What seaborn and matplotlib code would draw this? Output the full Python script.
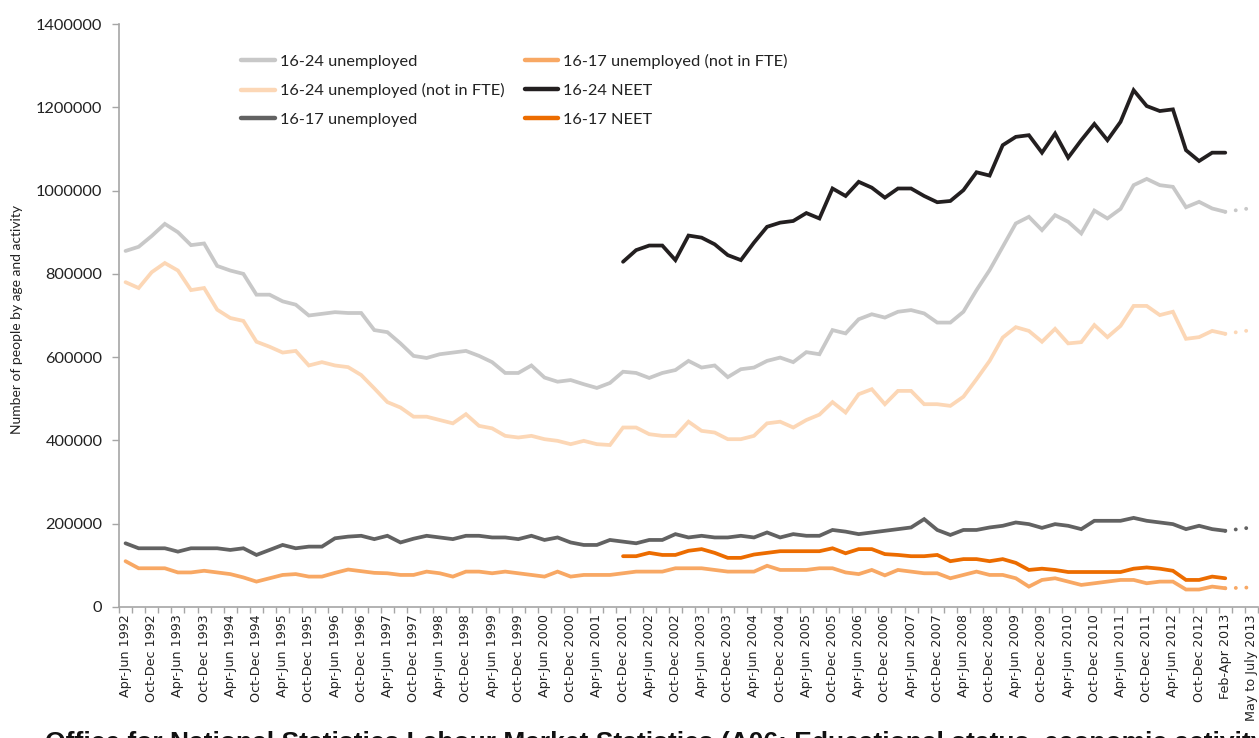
import numpy as np
import pandas as pd
import matplotlib
matplotlib.use("Agg")
import matplotlib.pyplot as plt
from matplotlib.lines import Line2D
import seaborn as sns

# Quarterly labels shown on the x axis (every second period)
tick_labels = [
    "Apr-Jun 1992", "Oct-Dec 1992", "Apr-Jun 1993", "Oct-Dec 1993", "Apr-Jun 1994",
    "Oct-Dec 1994", "Apr-Jun 1995", "Oct-Dec 1995", "Apr-Jun 1996", "Oct-Dec 1996",
    "Apr-Jun 1997", "Oct-Dec 1997", "Apr-Jun 1998", "Oct-Dec 1998", "Apr-Jun 1999",
    "Oct-Dec 1999", "Apr-Jun 2000", "Oct-Dec 2000", "Apr-Jun 2001", "Oct-Dec 2001",
    "Apr-Jun 2002", "Oct-Dec 2002", "Apr-Jun 2003", "Oct-Dec 2003", "Apr-Jun 2004",
    "Oct-Dec 2004", "Apr-Jun 2005", "Oct-Dec 2005", "Apr-Jun 2006", "Oct-Dec 2006",
    "Apr-Jun 2007", "Oct-Dec 2007", "Apr-Jun 2008", "Oct-Dec 2008", "Apr-Jun 2009",
    "Oct-Dec 2009", "Apr-Jun 2010", "Oct-Dec 2010", "Apr-Jun 2011", "Oct-Dec 2011",
    "Apr-Jun 2012", "Oct-Dec 2012", "Feb-Apr 2013", "May to July 2013",
]
n_periods = 2 * len(tick_labels) - 1      # one period per quarter, 87 in total
last_obs = 84                             # Feb-Apr 2013
neet_start = 38                           # Oct-Dec 2001

# Thousands of people, Apr-Jun 1992 .. Feb-Apr 2013
unemp_1624 = [855, 865, 891, 920, 900, 869, 873, 819, 808, 800,
              750, 750, 734, 726, 700, 704, 708, 706, 706, 665,
              660, 633, 603, 598, 607, 611, 615, 603, 588, 562,
              562, 580, 551, 541, 545, 535, 526, 538, 565, 562,
              550, 562, 569, 591, 575, 580, 552, 571, 575, 591,
              599, 588, 612, 607, 665, 657, 691, 703, 695, 709,
              713, 705, 683, 683, 709, 761, 809, 865, 921, 937,
              905, 941, 925, 897, 952, 933, 956, 1013, 1028, 1013,
              1009, 960, 973, 957, 949]
unemp_nfte_1624 = [780, 766, 804, 826, 808, 761, 766, 714, 694, 687,
                   637, 625, 611, 615, 580, 588, 580, 576, 557, 525,
                   492, 479, 457, 457, 449, 441, 463, 435, 429, 411,
                   407, 411, 403, 399, 391, 399, 391, 389, 431, 431,
                   415, 411, 411, 445, 423, 419, 403, 403, 411, 441,
                   445, 431, 449, 462, 492, 467, 511, 523, 487, 519,
                   519, 487, 487, 483, 505, 547, 591, 647, 672, 663,
                   637, 668, 633, 636, 677, 648, 675, 723, 723, 701,
                   709, 644, 648, 663, 656]
unemp_1617 = [153, 141, 141, 141, 133, 141, 141, 141, 137, 141,
              125, 137, 149, 141, 145, 145, 165, 169, 171, 163,
              171, 155, 164, 171, 167, 163, 171, 171, 167, 167,
              163, 171, 161, 167, 155, 149, 149, 161, 157, 153,
              161, 161, 175, 167, 171, 167, 167, 171, 167, 179,
              167, 175, 171, 171, 185, 181, 175, 179, 183, 187,
              191, 211, 185, 173, 185, 185, 191, 195, 203, 199,
              190, 199, 195, 187, 207, 207, 207, 214, 207, 203,
              199, 187, 195, 187, 183]
unemp_nfte_1617 = [110, 93, 93, 93, 83, 83, 87, 83, 79, 71,
                   61, 69, 77, 79, 73, 73, 82, 90, 86, 82,
                   81, 77, 77, 85, 81, 73, 85, 85, 81, 85,
                   81, 77, 73, 85, 73, 77, 77, 77, 81, 85,
                   85, 85, 93, 93, 93, 89, 85, 85, 85, 99,
                   89, 89, 89, 93, 93, 83, 79, 89, 76, 89,
                   85, 81, 81, 69, 77, 85, 77, 77, 69, 49,
                   65, 69, 61, 53, 57, 61, 65, 65, 57, 61,
                   61, 42, 42, 49, 45]
# NEET series, Oct-Dec 2001 .. Feb-Apr 2013
neet_1624 = [829, 857, 868, 868, 833, 892, 887, 871, 845, 833,
             875, 913, 923, 927, 946, 933, 1005, 987, 1021, 1007,
             983, 1005, 1005, 987, 972, 975, 1001, 1044, 1036, 1109,
             1129, 1133, 1091, 1137, 1079, 1121, 1160, 1121, 1165, 1241,
             1203, 1191, 1195, 1097, 1071, 1091, 1091]
neet_1617 = [122, 122, 130, 125, 125, 135, 139, 130, 118, 118,
             126, 130, 134, 134, 134, 134, 141, 129, 139, 139,
             127, 125, 122, 122, 125, 110, 115, 115, 110, 115,
             106, 89, 92, 89, 84, 84, 84, 84, 84, 92,
             95, 92, 87, 65, 65, 73, 69]
# Latest estimates, May to July 2013
latest = {"16-24 unemployed": 958, "16-24 unemployed (not in FTE)": 665,
          "16-17 unemployed": 191, "16-17 unemployed (not in FTE)": 47}

series = {
    "16-24 unemployed": (unemp_1624, 0, "#c8c8c8"),
    "16-24 unemployed (not in FTE)": (unemp_nfte_1624, 0, "#fcd7b6"),
    "16-17 unemployed": (unemp_1617, 0, "#626262"),
    "16-17 unemployed (not in FTE)": (unemp_nfte_1617, 0, "#f8a864"),
    "16-24 NEET": (neet_1624, neet_start, "#231f20"),
    "16-17 NEET": (neet_1617, neet_start, "#ec6c00"),
}

sns.set_theme(style="white")
plt.rcParams["font.family"] = ["Lato", "DejaVu Sans"]

fig = plt.figure(figsize=(12.59, 7.38), dpi=100)
ax = fig.add_axes([119 / 1259, 131 / 738, 1139 / 1259, 583 / 738])

draw_order = ["16-24 unemployed", "16-24 unemployed (not in FTE)", "16-17 unemployed (not in FTE)",
              "16-17 unemployed", "16-17 NEET", "16-24 NEET"]
for name in draw_order:
    vals, start, color = series[name]
    df = pd.DataFrame({"period": np.arange(start, start + len(vals)),
                       "people": np.array(vals) * 1000})
    sns.lineplot(data=df, x="period", y="people", color=color, lw=2.7, ax=ax,
                 solid_joinstyle="miter", solid_capstyle="round")
    if name in latest:
        proj = pd.DataFrame({"period": [last_obs, n_periods - 1],
                             "people": [vals[-1] * 1000, latest[name] * 1000]})
        sns.lineplot(data=proj, x="period", y="people", color=color, lw=2.8, ax=ax,
                     linestyle=(0, (0.01, 2.7)), dash_capstyle="round")

ax.set_xlim(-0.5, n_periods - 0.5)
ax.set_ylim(0, 1400000)
ax.set_yticks(np.arange(0, 1400001, 200000))
ax.set_yticklabels([f"{int(v)}" for v in np.arange(0, 1400001, 200000)])
ax.set_xticks(np.arange(0, n_periods, 2))
ax.set_xticklabels(tick_labels, rotation=90, family="DejaVu Sans", fontsize=9.2, color="#222222")
ax.set_xticks(np.arange(-0.5, n_periods, 1), minor=True)
ax.tick_params(axis="x", which="major", length=0, pad=5)
ax.tick_params(axis="x", which="minor", length=4, width=1, color="#a6a6a6", direction="out", bottom=True)
ax.tick_params(axis="y", length=5, width=1, color="#a6a6a6", direction="out", left=True,
               labelsize=11.8, labelcolor="#222222", pad=7)
ax.set_xlabel("")
ax.set_ylabel("")
fig.text(17 / 1259, 1 - 320 / 738, "Number of people by age and activity", rotation=90,
         fontsize=10, color="#222222", ha="center", va="center")

for side in ("top", "right"):
    ax.spines[side].set_visible(False)
for side in ("left", "bottom"):
    ax.spines[side].set_color("#a6a6a6")
    ax.spines[side].set_linewidth(1.2)

legend_order = ["16-24 unemployed", "16-24 unemployed (not in FTE)", "16-17 unemployed",
                "16-17 unemployed (not in FTE)", "16-24 NEET", "16-17 NEET"]
handles = [Line2D([0], [0], color=series[n][2], lw=3.2) for n in legend_order]
ax.legend(handles, legend_order, ncol=2, frameon=False, loc="upper left",
          bbox_to_anchor=(0.1, 0.963), fontsize=11.8, handlelength=2.05,
          handletextpad=0.3, columnspacing=1.25, labelspacing=0.88, borderpad=0,
          labelcolor="#222222")

fig.text(45 / 1259, -12 / 738,
         "Office for National Statistics Labour Market Statistics (A06: Educational status, "
         "economic activity and inactivity of young people)",
         family="Liberation Sans", fontweight="bold", fontsize=19, va="baseline", color="#111111")

fig.savefig("out.png", dpi=100)
